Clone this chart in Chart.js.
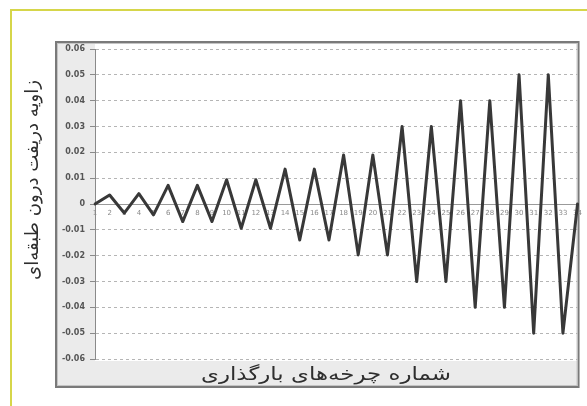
<!DOCTYPE html>
<html>
<head>
<meta charset="utf-8">
<script src="https://cdn.jsdelivr.net/npm/chart.js@4/dist/chart.umd.min.js"></script>
<style>
  html, body { margin: 0; padding: 0; background: #ffffff; }
  #wrap { width: 587px; height: 406px; position: relative; }
</style>
</head>
<body>
<div id="wrap"><canvas id="drift"></canvas></div>
<script>
// Loading step numbers along the horizontal axis
const stepLabels = ['1','2','3','4','5','6','7','8','9','10','11','12','13','14','15','16','17',
  '18','19','20','21','22','23','24','25','26','27','28','29','30','31','32','33','34'];

// Inter-storey drift ratio at each step of the cyclic loading history
const driftRatio = [0,
  0.0035, -0.0035, 0.004, -0.0042,
  0.0072, -0.0068, 0.0072, -0.0068,
  0.0094, -0.0094, 0.0094, -0.0094,
  0.0135, -0.0139, 0.0135, -0.0139,
  0.019, -0.0197, 0.019, -0.0197,
  0.03, -0.03, 0.03, -0.03,
  0.04, -0.04, 0.04, -0.04,
  0.05, -0.05, 0.05, -0.05,
  0];

// Vertical axis ticks
const yTickValues = [-0.06, -0.05, -0.04, -0.03, -0.02, -0.01, 0, 0.01, 0.02, 0.03, 0.04, 0.05, 0.06];

const xTitle = 'شماره چرخه\u200cهای بارگذاری';
const yTitle = 'زاویه دریفت درون طبقه\u200cای';

const FONT = '"DejaVu Sans", sans-serif';

// Draws a title stretched horizontally to a given run length
function drawStretched(ctx, text, length) {
  const w = ctx.measureText(text).width;
  ctx.scale(length / w, 1);
  ctx.fillText(text, 0, 0);
}

// Panel: outer yellow rule, grey framed box, grey label bands, and both titles
const panelPlugin = {
  id: 'panel',
  beforeDraw(chart) {
    const ctx = chart.ctx;
    const a = chart.chartArea;
    ctx.save();
    ctx.fillStyle = '#ffffff';
    ctx.fillRect(0, 0, chart.width, chart.height);

    // yellow rule along top and left
    ctx.strokeStyle = '#d6d64a';
    ctx.lineWidth = 2;
    ctx.beginPath();
    ctx.moveTo(11, chart.height);
    ctx.lineTo(11, 10);
    ctx.lineTo(chart.width, 10);
    ctx.stroke();

    // framed box
    const fx = 57, fy = 43, fw = a.right - 57 + 1, fh = 387 - 43;
    ctx.fillStyle = '#ebebeb';
    ctx.fillRect(fx, fy, fw, fh);
    ctx.fillStyle = '#ffffff';
    ctx.fillRect(a.left, fy, a.right - a.left, a.bottom - fy + 2);
    ctx.strokeStyle = '#7a7a7a';
    ctx.lineWidth = 2;
    ctx.strokeRect(fx - 1, fy - 1, fw + 1, fh + 1);
    ctx.strokeStyle = '#c4c4c4';
    ctx.lineWidth = 1;
    ctx.strokeRect(fx + 0.5, fy + 0.5, fw - 2, fh - 2);
    ctx.restore();
  },
  afterDraw(chart) {
    const ctx = chart.ctx;
    ctx.save();
    ctx.fillStyle = '#2e2e2e';
    ctx.direction = 'rtl';
    ctx.textAlign = 'center';
    ctx.textBaseline = 'middle';
    ctx.font = '18px ' + FONT;

    ctx.save();
    ctx.translate(326, 375);
    drawStretched(ctx, xTitle, 250);
    ctx.restore();

    ctx.save();
    ctx.translate(33, 180);
    ctx.rotate(-Math.PI / 2);
    drawStretched(ctx, yTitle, 200);
    ctx.restore();
    ctx.restore();
  }
};

new Chart(document.getElementById('drift'), {
  type: 'line',
  data: {
    labels: stepLabels,
    datasets: [{
      data: driftRatio,
      borderColor: '#383838',
      borderWidth: 3,
      borderJoinStyle: 'round',
      borderCapStyle: 'round',
      pointRadius: 0,
      tension: 0,
      fill: false
    }]
  },
  options: {
    responsive: true,
    maintainAspectRatio: false,
    animation: false,
    devicePixelRatio: 1,
    layout: { padding: { left: 0, right: 4, top: 49, bottom: 47 } },
    plugins: { legend: { display: false }, tooltip: { enabled: false }, title: { display: false } },
    scales: {
      x: {
        type: 'category',
        position: { y: 0 },
        offset: false,
        grid: { display: false, drawTicks: false },
        border: { display: true, color: '#9a9a9a', width: 1 },
        ticks: {
          autoSkip: false,
          maxRotation: 0,
          padding: 5,
          color: '#8a8a8a',
          font: { family: FONT, size: 7 }
        }
      },
      y: {
        min: -0.06,
        max: 0.06,
        afterBuildTicks(scale) { scale.ticks = yTickValues.map(v => ({ value: v })); },
        afterFit(scale) { scale.width = 95; },
        grid: { color: '#b5b5b5', lineWidth: 1, tickLength: 5, tickColor: '#8a8a8a' },
        border: { display: true, color: '#8a8a8a', width: 1, dash: [3, 3] },
        ticks: {
          padding: 5,
          color: '#555555',
          font: { family: FONT, size: 8, weight: 'bold' },
          callback(v) { return v === 0 ? '0' : Number(v).toFixed(2); }
        }
      }
    }
  },
  plugins: [panelPlugin]
});
</script>
</body>
</html>
